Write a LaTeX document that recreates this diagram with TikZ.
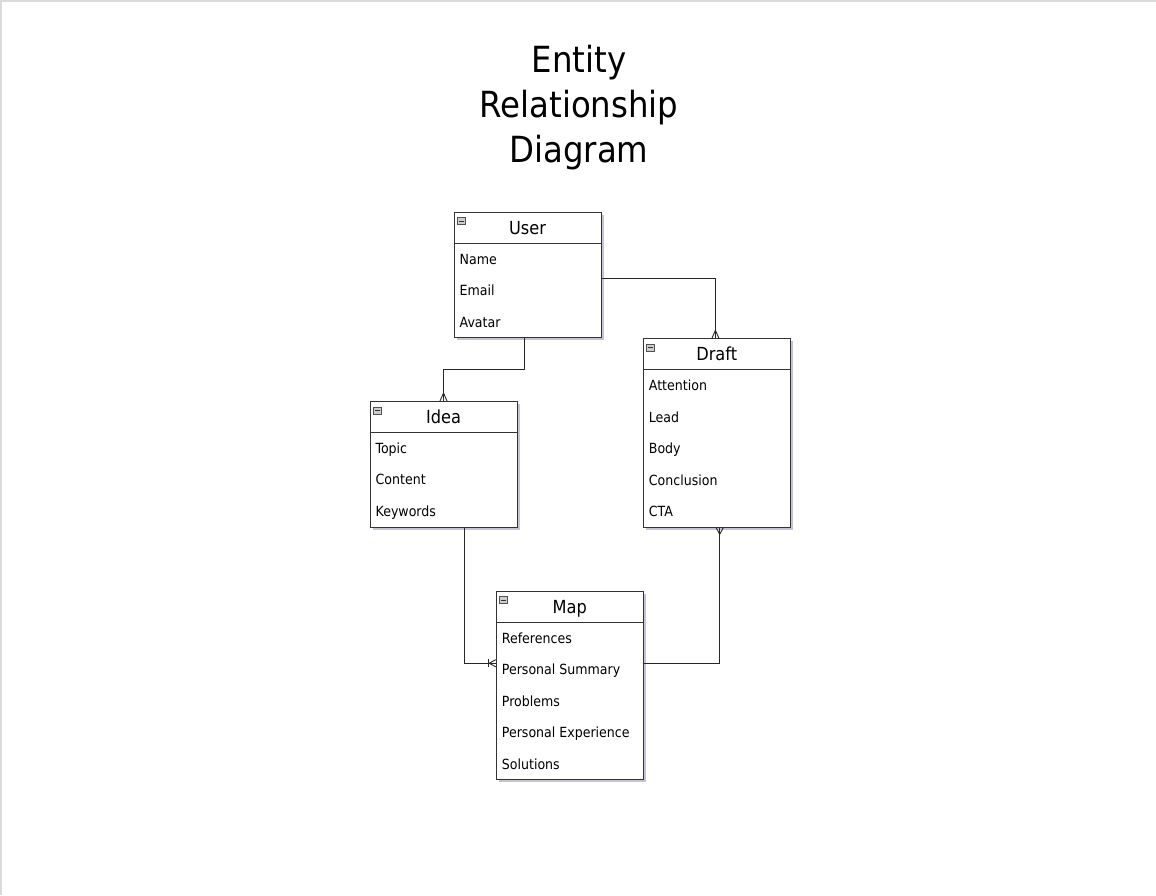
\documentclass[tikz,border=0pt]{standalone}
\usepackage{fontspec}
\setmainfont{DejaVu Sans Condensed}
\usetikzlibrary{shadows}
\definecolor{boxline}{HTML}{333333}
\definecolor{shadowc}{HTML}{C4C4D8}
\definecolor{framec}{HTML}{DADADA}
\definecolor{iconfill}{HTML}{CDCDCD}
\tikzset{
  ebox/.style={draw=boxline, fill=white, line width=1pt, minimum width=147pt,
    inner sep=0pt, anchor=north west,
    drop shadow={shadow xshift=2.5pt, shadow yshift=-2.5pt, fill=shadowc, opacity=1}},
  ehead/.style={ebox, minimum height=31pt, text height=13pt, text depth=0pt,
    font=\fontsize{18}{20}\selectfont},
  attr/.style={anchor=base west, inner sep=0pt, font=\fontsize{14}{16}\selectfont},
  icon/.style={draw=boxline!85, fill=iconfill, line width=0.6pt, minimum width=8pt,
    minimum height=7pt, inner sep=0pt,
    path picture={\draw[line width=0.9pt, black!80] ([xshift=1.6pt]path picture bounding box.west)
      -- ([xshift=-1.6pt]path picture bounding box.east);}},
  conn/.style={draw=black!85, line width=0.9pt},
  titlet/.style={anchor=base, inner sep=0pt, font=\fontsize{36}{40}\selectfont},
}
\begin{document}
\begin{tikzpicture}[x=1pt,y=-1pt]
\useasboundingbox (0,0) rectangle (1156,895);
\fill[white] (0,0) rectangle (1156,895);
\draw[framec, line width=1.5pt] (0.75,895) -- (0.75,0.75) -- (1156,0.75);

% title
\node[titlet] (t1) at (579,72) {Entity};
\node[titlet] (t2) at (579,117) {Relationship};
\node[titlet] (t3) at (579,162) {Diagram};

% User
\node[ehead] (user) at (453.5,211.7) {User};
\node[ebox, minimum height=94.5pt] (userb) at (453.5,242.7) {};
\node[icon] (usericon) at (461.5,221) {};
\node[attr] (uname) at (459.5,264) {Name};
\node[attr] (uemail) at (459.5,295.5) {Email};
\node[attr] (uavatar) at (459.5,327) {Avatar};

% Draft
\node[ehead] (draft) at (642.7,338.3) {Draft};
\node[ebox, minimum height=157.5pt] (draftb) at (642.7,369.3) {};
\node[icon] (drafticon) at (650.7,347.6) {};
\node[attr] (datt) at (648.7,390.5) {Attention};
\node[attr] (dlead) at (648.7,422) {Lead};
\node[attr] (dbody) at (648.7,453.5) {Body};
\node[attr] (dconc) at (648.7,485) {Conclusion};
\node[attr] (dcta) at (648.7,516.5) {CTA};

% Idea
\node[ehead] (idea) at (369.5,401) {Idea};
\node[ebox, minimum height=94.5pt] (ideab) at (369.5,432) {};
\node[icon] (ideaicon) at (377.5,410.3) {};
\node[attr] (itopic) at (375.5,453.3) {Topic};
\node[attr] (icontent) at (375.5,484.8) {Content};
\node[attr] (ikey) at (375.5,516.3) {Keywords};

% Map
\node[ehead] (map) at (495.7,590.7) {Map};
\node[ebox, minimum height=157.5pt] (mapb) at (495.7,621.7) {};
\node[icon] (mapicon) at (503.7,600) {};
\node[attr] (mref) at (501.7,643) {References};
\node[attr] (msum) at (501.7,674.5) {Personal Summary};
\node[attr] (mprob) at (501.7,706) {Problems};
\node[attr] (mexp) at (501.7,737.5) {Personal Experience};
\node[attr] (msol) at (501.7,769) {Solutions};

% User -> Draft (many)
\draw[conn] ([yshift=12.5pt]userb.east) -| ([xshift=-1.3pt]draft.north);
\draw[conn] ([xshift=-1.3pt,yshift=8pt]draft.north) -- ([xshift=-4.8pt]draft.north)
            ([xshift=-1.3pt,yshift=8pt]draft.north) -- ([xshift=2.2pt]draft.north);

% User -> Idea (many)
\draw[conn] ([xshift=-2.8pt]userb.south) -- ++(0,31) -| (idea.north);
\draw[conn] ([yshift=8pt]idea.north) -- ([xshift=-3.5pt]idea.north)
            ([yshift=8pt]idea.north) -- ([xshift=3.5pt]idea.north);

% Idea -> Map (one or many)
\draw[conn] ([xshift=21pt]ideab.south) |- ([yshift=37.7pt]mapb.west);
\draw[conn] ([xshift=-7pt,yshift=41.5pt]mapb.west) -- ([xshift=-7pt,yshift=33.9pt]mapb.west);
\draw[conn] ([xshift=-6.5pt,yshift=37.7pt]mapb.west) -- ([yshift=41.3pt]mapb.west)
            ([xshift=-6.5pt,yshift=37.7pt]mapb.west) -- ([yshift=34.1pt]mapb.west);

% Map -> Draft (many)
\draw[conn] ([yshift=37.3pt]mapb.east) -| ([xshift=3pt]draftb.south);
\draw[conn] ([xshift=3pt,yshift=-6.5pt]draftb.south) -- ([xshift=-0.5pt]draftb.south)
            ([xshift=3pt,yshift=-6.5pt]draftb.south) -- ([xshift=6.5pt]draftb.south);
\end{tikzpicture}
\end{document}
